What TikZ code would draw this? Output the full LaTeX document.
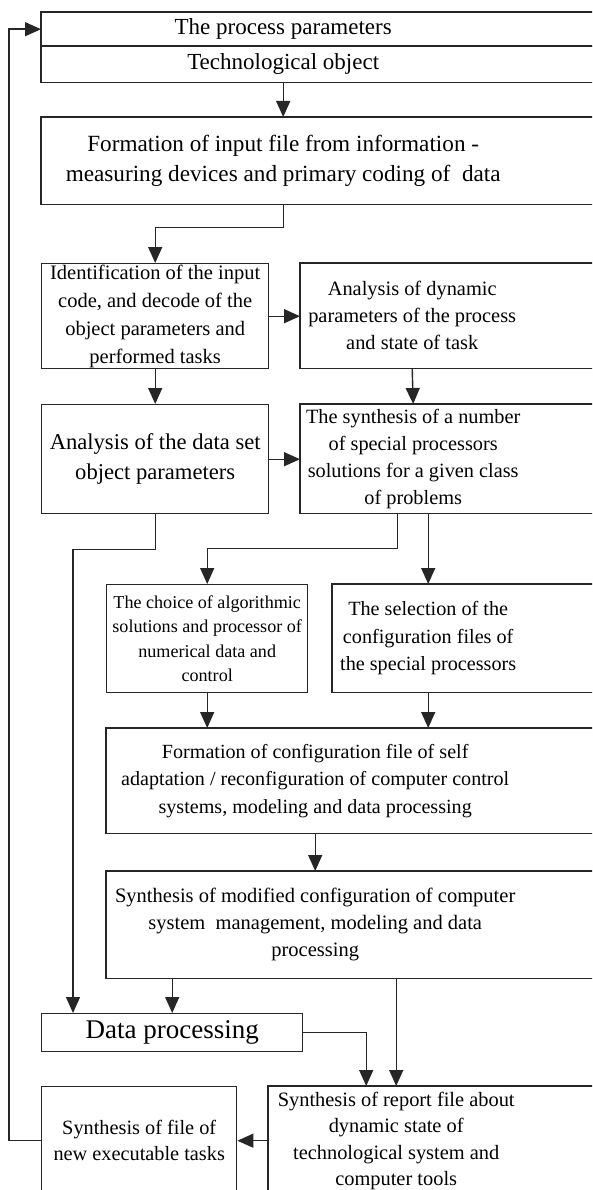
\documentclass[tikz,border=0pt]{standalone}
\usepackage{fontspec}
\setmainfont{Liberation Serif}
\usetikzlibrary{arrows.meta}

\begin{document}
\begin{tikzpicture}[x=1pt, y=-1pt,
  line/.style={line width=1.4pt, draw=black!85},
  arrow/.style={line, -{Triangle[length=16pt, width=14pt]}},
  box/.style={line, anchor=north west, inner sep=0pt, align=center},
  wide/.style={anchor=north west, inner sep=0pt, align=center}
]
\useasboundingbox (0,0) rectangle (592,1190);
\clip (0,0) rectangle (592,1190);
\coordinate (rim) at (600,0);

% top: object and its parameters
\node[wide, minimum width=484pt, minimum height=34pt, font=\fontsize{23}{26}\selectfont] (par) at (41,12) {The process parameters};
\node[wide, minimum width=484pt, minimum height=36pt, font=\fontsize{23}{26}\selectfont] (obj) at (41,46) {Technological object};
\node[wide, minimum width=484pt, minimum height=87pt, font=\fontsize{23.2}{30}\selectfont] (input) at (41,117) {Formation of input file from information -\\measuring devices and primary coding of~ data};

% identification and analysis
\node[box, minimum width=227pt, minimum height=105pt, font=\fontsize{20.5}{28}\selectfont] (ident) at (41,263) {Identification of the input\\code, and decode of the\\object parameters and\\performed tasks};
\node[wide, minimum width=224pt, minimum height=105pt, font=\fontsize{20.4}{27}\selectfont] (dyn) at (300,263) {Analysis of dynamic\\parameters of the process\\and state of task};
\node[box, minimum width=227pt, minimum height=109pt, font=\fontsize{22.6}{30}\selectfont] (dataset) at (41,404) {Analysis of the data set\\object parameters};
\node[wide, minimum width=226pt, minimum height=109pt, font=\fontsize{20.3}{27}\selectfont] (synth) at (300,404) {The synthesis of a number\\of special processors\\solutions for a given class\\of problems};

% choice and configuration
\node[box, minimum width=201pt, minimum height=108pt, font=\fontsize{18.1}{24.5}\selectfont] (choice) at (106,584) {The choice of algorithmic\\solutions and processor of\\numerical data and\\control};
\node[wide, minimum width=192pt, minimum height=108pt, font=\fontsize{20.2}{27.5}\selectfont] (select) at (332,584) {The selection of the\\configuration files of\\the special processors};
\node[wide, minimum width=418pt, minimum height=105pt, font=\fontsize{20.1}{27.5}\selectfont] (config) at (106,728) {Formation of configuration file of self\\adaptation / reconfiguration of computer control\\systems, modeling and data processing};
\node[wide, minimum width=418pt, minimum height=107pt, font=\fontsize{20.5}{27}\selectfont] (modif) at (106,871) {Synthesis of modified configuration of computer\\system~ management, modeling and data\\processing};

% processing and reports
\node[box, minimum width=261pt, minimum height=38pt, font=\fontsize{27}{30}\selectfont] (proc) at (41,1013) {Data processing};
\node[box, minimum width=195pt, minimum height=108pt, font=\fontsize{20.3}{26}\selectfont] (tasks) at (41,1086) {Synthesis of file of\\new executable tasks};
\node[wide, minimum width=256pt, minimum height=110pt, font=\fontsize{20.4}{26.5}\selectfont] (report) at (268,1086) {Synthesis of report file about\\dynamic state of\\technological system and\\computer tools};

% boxes running off the right edge
\foreach \n in {par,obj,input,dyn,synth,select,config,modif,report}
  \draw[line] (\n.north west) rectangle (\n.south -| rim);

\draw[arrow] (obj.south) -- (input.north);
\draw[arrow] (input.south) -- ++(0,23) -| (ident.north);
\draw[arrow] (ident.east) -- (ident.east -| dyn.west);
\draw[arrow] (ident.south) -- (dataset.north);
\draw[arrow] (dyn.south) -- (synth.north);
\draw[arrow] (dataset.east) -- (dataset.east -| synth.west);
\draw[arrow] (dataset.south) -- ++(0,35) -| ([xshift=32pt]proc.north west);
\draw[arrow] ([xshift=-16pt]synth.south) -- ++(0,35) -| (choice.north);
\draw[arrow] (select.north |- synth.south) -- (select.north);
\draw[arrow] (choice.south) -- (choice.south |- config.north);
\draw[arrow] (select.south) -- (select.south |- config.north);
\draw[arrow] (config.south) -- (modif.north);
\draw[arrow] (proc.north |- modif.south) -- (proc.north);
\draw[arrow] (report.north |- modif.south) -- (report.north);
\draw[arrow] (proc.east) -| ([xshift=-30pt]report.north);
\draw[arrow] (tasks.east -| report.west) -- (tasks.east);
\draw[arrow] (tasks.west) -- ++(-32,0) |- (par.west);
\end{tikzpicture}
\end{document}
